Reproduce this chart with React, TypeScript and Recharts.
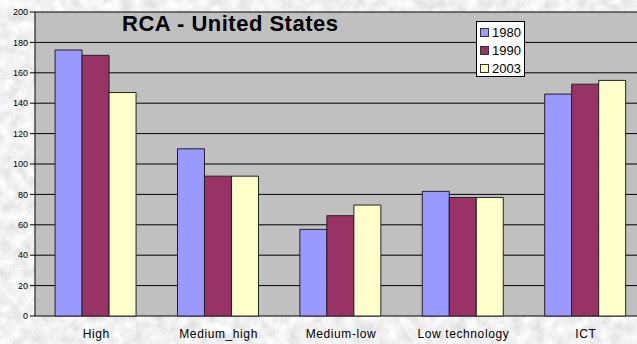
import React from "react";
import { BarChart, Bar, XAxis, YAxis, CartesianGrid, Legend } from "recharts";

const categories = ["High", "Medium_high", "Medium-low", "Low technology", "ICT"];
const series1980 = [175, 110, 57, 82, 146];
const series1990 = [171.5, 92, 66, 78, 152.5];
const series2003 = [147, 92, 73, 78, 155];
const yTicks = [0, 20, 40, 60, 80, 100, 120, 140, 160, 180, 200];
const boundaryTicks = [0, 1, 2, 3, 4, 5];

const data = categories.map((c, i) => ({
  name: c,
  y1980: series1980[i],
  y1990: series1990[i],
  y2003: series2003[i],
}));

const FONT = "'Liberation Sans', Arial, sans-serif";

const LegendBox = (props: any) => {
  const { payload } = props;
  return (
    <div
      style={{
        background: "#fff",
        border: "1px solid #000",
        width: 47,
        height: 53,
        boxSizing: "content-box",
        fontFamily: FONT,
        fontSize: 13,
        color: "#000",
        paddingTop: 1,
      }}
    >
      {(payload || []).map((p: any) => (
        <div key={p.value} style={{ display: "flex", alignItems: "center", height: 18 }}>
          <span
            style={{
              display: "inline-block",
              width: 7,
              height: 7,
              background: p.color,
              border: "1px solid #333",
              marginLeft: 3,
              marginRight: 3,
            }}
          />
          <span>{p.value}</span>
        </div>
      ))}
    </div>
  );
};

export default function App() {
  return (
    <div style={{ position: "fixed", left: 0, top: 0, width: 637, height: 344, overflow: "hidden", background: "#dcdcdc" }}>
      <svg width={637} height={344} style={{ position: "absolute", left: 0, top: 0 }}>
        <filter id="marble" x="0" y="0" width="100%" height="100%">
          <feTurbulence type="fractalNoise" baseFrequency="0.09" numOctaves={4} seed={5} />
          <feColorMatrix
            type="matrix"
            values="0.4 0 0 0 0.68  0.4 0 0 0 0.68  0.4 0 0 0 0.68  0 0 0 0 1"
          />
        </filter>
        <rect x={0} y={0} width={637} height={344} filter="url(#marble)" />
      </svg>
      <div style={{ position: "absolute", left: 0, top: 0 }}>
        <BarChart
          width={637}
          height={344}
          data={data}
          margin={{ top: 12, right: -10, bottom: 0, left: 0 }}
          barCategoryGap="16.4%"
          barGap={0}
        >
          <CartesianGrid vertical={false} stroke="#000" strokeOpacity={1} fill="#c0c0c0" fillOpacity={1} />
          <XAxis
            xAxisId="bounds"
            type="number"
            domain={[0, 5]}
            ticks={boundaryTicks}
            tick={false}
            tickSize={4}
            axisLine={{ stroke: "#000" }}
            tickLine={{ stroke: "#000" }}
            height={0}
          />
          <XAxis
            dataKey="name"
            xAxisId="cat"
            axisLine={false}
            tickLine={false}
            tickSize={0}
            tickMargin={13}
            height={28}
            interval={0}
            tick={{ fill: "#000", fontSize: 12, fontFamily: FONT, letterSpacing: 0.6 }}
          />
          <YAxis
            width={35}
            domain={[0, 200]}
            ticks={yTicks}
            interval={0}
            tickSize={5}
            tickMargin={2}
            axisLine={{ stroke: "#000" }}
            tickLine={{ stroke: "#000" }}
            tick={{ fill: "#000", fontSize: 9, fontFamily: FONT }}
          />
          <Legend
            layout="vertical"
            align="center"
            verticalAlign="middle"
            content={<LegendBox />}
            wrapperStyle={{ left: 476, top: 21, width: 49, height: 55 }}
          />
          <Bar xAxisId="cat" dataKey="y1980" name="1980" fill="#9999ff" stroke="#222" strokeWidth={1} isAnimationActive={false} />
          <Bar xAxisId="cat" dataKey="y1990" name="1990" fill="#993366" stroke="#222" strokeWidth={1} isAnimationActive={false} />
          <Bar xAxisId="cat" dataKey="y2003" name="2003" fill="#ffffcc" stroke="#222" strokeWidth={1} isAnimationActive={false} />
        </BarChart>
      </div>
      <div
        style={{
          position: "absolute",
          left: 122,
          top: 13,
          fontFamily: FONT,
          fontWeight: "bold",
          fontSize: 22,
          lineHeight: "22px",
          letterSpacing: 0.5,
          color: "#000",
          whiteSpace: "nowrap",
        }}
      >
        RCA - United States
      </div>
    </div>
  );
}
